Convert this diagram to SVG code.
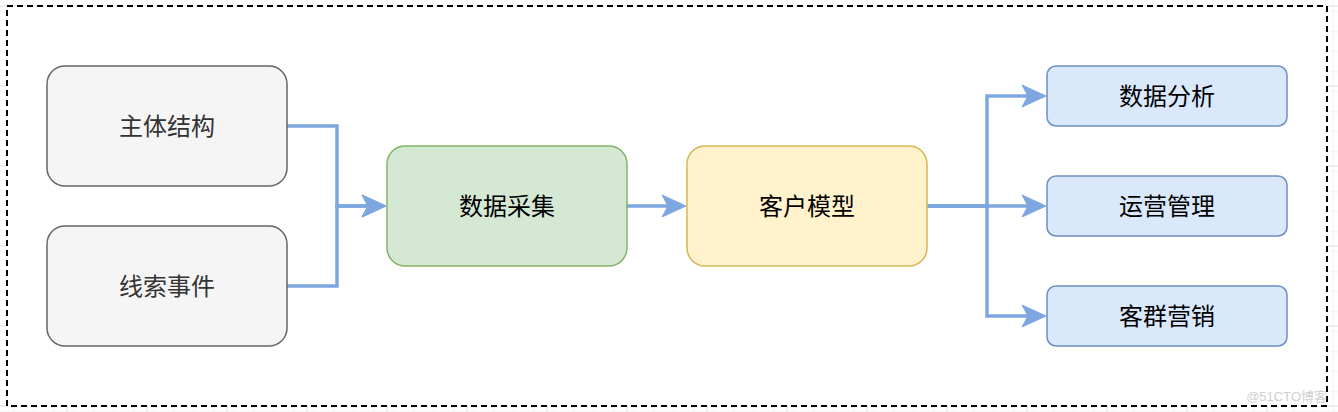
<svg xmlns="http://www.w3.org/2000/svg" width="1338" height="412" viewBox="0 0 1338 412">
  <style>
    .node rect { stroke-width: 1.5; }
    .gray rect { fill: #f5f5f5; stroke: #666666; }
    .green rect { fill: #d5e8d4; stroke: #82b366; }
    .yellow rect { fill: #fff2cc; stroke: #d6b656; }
    .blue rect { fill: #dae8fc; stroke: #6c8ebf; }
    .node text { font-family: "Noto Sans CJK SC", "Noto Sans", sans-serif; font-size: 24px; text-anchor: middle; dominant-baseline: central; fill: #000000; }
    .gray text { fill: #333333; }
    .edge { fill: none; stroke: #7ea6e0; stroke-width: 3.5; stroke-linejoin: miter; marker-end: url(#arrow); }
  </style>
  <defs>
    <pattern id="gridMinor" width="20" height="20" patternUnits="userSpaceOnUse" x="6.5" y="5.5">
      <path d="M0,0.5 H20 M0.5,0 V20" fill="none" stroke="#f0f0f0" stroke-width="1"/>
    </pattern>
    <pattern id="gridMajor" width="80" height="80" patternUnits="userSpaceOnUse" x="66.5" y="5.5">
      <rect width="80" height="80" fill="url(#gridMinor)"/>
      <path d="M0,0.5 H80 M0.5,0 V80" fill="none" stroke="#e0e0e0" stroke-width="1"/>
    </pattern>
    <marker id="arrow" markerUnits="userSpaceOnUse" markerWidth="30" markerHeight="30" refX="6" refY="0" orient="auto" overflow="visible">
      <path d="M0,-11 L24,0 L0,11 L6,0 Z" fill="#7ea6e0" stroke="#7ea6e0" stroke-width="1" stroke-linejoin="miter"/>
    </marker>
  </defs>

  <rect width="1338" height="412" fill="#ffffff"/>
  <rect width="1338" height="412" fill="url(#gridMajor)"/>
  <rect id="container" x="7" y="6" width="1320" height="400" fill="#ffffff" stroke="#000000" stroke-width="2" stroke-dasharray="6 4"/>

  <g id="connectors">
    <path class="edge" d="M287,126 H337 V206 H368"/>
    <path class="edge" d="M287,286 H337 V206 H368"/>
    <path class="edge" d="M627,206 H668"/>
    <path class="edge" d="M927,206 H987 V96 H1028"/>
    <path class="edge" d="M927,206 H1028"/>
    <path class="edge" d="M927,206 H987 V316 H1028"/>
  </g>

  <g id="node-zhuti" class="node gray">
    <rect x="47" y="66" width="240" height="120" rx="18" ry="18"/>
    <text x="167" y="124">主体结构</text>
  </g>
  <g id="node-xiansuo" class="node gray">
    <rect x="47" y="226" width="240" height="120" rx="18" ry="18"/>
    <text x="167" y="284">线索事件</text>
  </g>
  <g id="node-caiji" class="node green">
    <rect x="387" y="146" width="240" height="120" rx="18" ry="18"/>
    <text x="507" y="204">数据采集</text>
  </g>
  <g id="node-moxing" class="node yellow">
    <rect x="687" y="146" width="240" height="120" rx="18" ry="18"/>
    <text x="807" y="204">客户模型</text>
  </g>
  <g id="node-fenxi" class="node blue">
    <rect x="1047" y="66" width="240" height="60" rx="9" ry="9"/>
    <text x="1167" y="94">数据分析</text>
  </g>
  <g id="node-yunying" class="node blue">
    <rect x="1047" y="176" width="240" height="60" rx="9" ry="9"/>
    <text x="1167" y="204">运营管理</text>
  </g>
  <g id="node-kequn" class="node blue">
    <rect x="1047" y="286" width="240" height="60" rx="9" ry="9"/>
    <text x="1167" y="314">客群营销</text>
  </g>

  <text x="1327" y="396" font-family="'Liberation Sans', 'Noto Sans CJK SC', sans-serif" font-size="13" fill="#d0d0d0" text-anchor="end" dominant-baseline="central">@51CTO博客</text>
</svg>
